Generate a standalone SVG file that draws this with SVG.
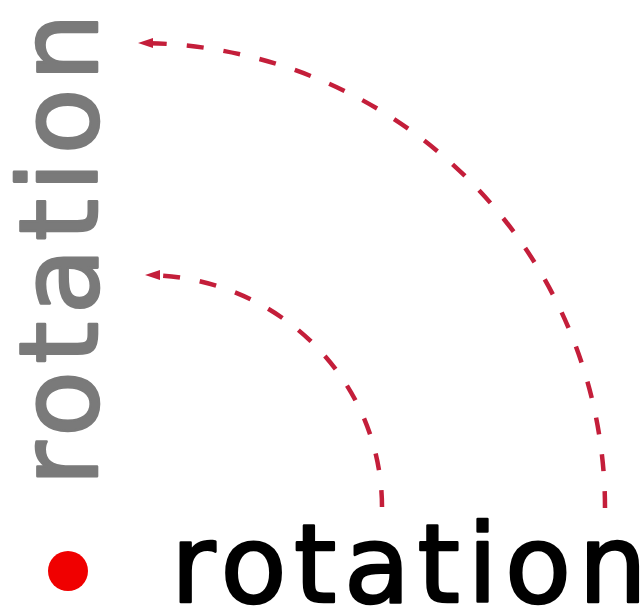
<svg xmlns="http://www.w3.org/2000/svg" width="642" height="607" viewBox="0 0 642 607">
  <style>
    .lbl { font-family: "DejaVu Sans", "Liberation Sans", sans-serif; font-size: 108px; stroke-width: 2.6; stroke-linejoin: round; }
    .arc { fill: none; stroke: #c41e3a; stroke-width: 4.5; stroke-dasharray: 17 20; }
  </style>
  <defs>
    <marker id="ah" markerUnits="userSpaceOnUse" markerWidth="16" markerHeight="12" refX="15" refY="6" orient="auto">
      <path d="M0,1 L15,6 L0,11 Z" fill="#c41e3a"/>
    </marker>
  </defs>
  <rect width="642" height="607" fill="#ffffff"/>
  <g id="vertical-label">
    <text class="lbl" fill="#7a7a7a" stroke="#7a7a7a" transform="translate(97,486) rotate(-90)" x="0" y="0" textLength="473" lengthAdjust="spacing">rotation</text>
  </g>
  <g id="connectors">
    <path class="arc" d="M605,508 A467,465 0 0 0 138,43" marker-end="url(#ah)"/>
    <path class="arc" d="M382,507 A237,232 0 0 0 145,275" marker-end="url(#ah)"/>
  </g>
  <g id="bottom-label">
    <circle cx="68" cy="571" r="20" fill="#f00000"/>
    <text class="lbl" fill="#000000" stroke="#000000" x="171" y="602" textLength="476" lengthAdjust="spacing">rotation</text>
  </g>
</svg>
